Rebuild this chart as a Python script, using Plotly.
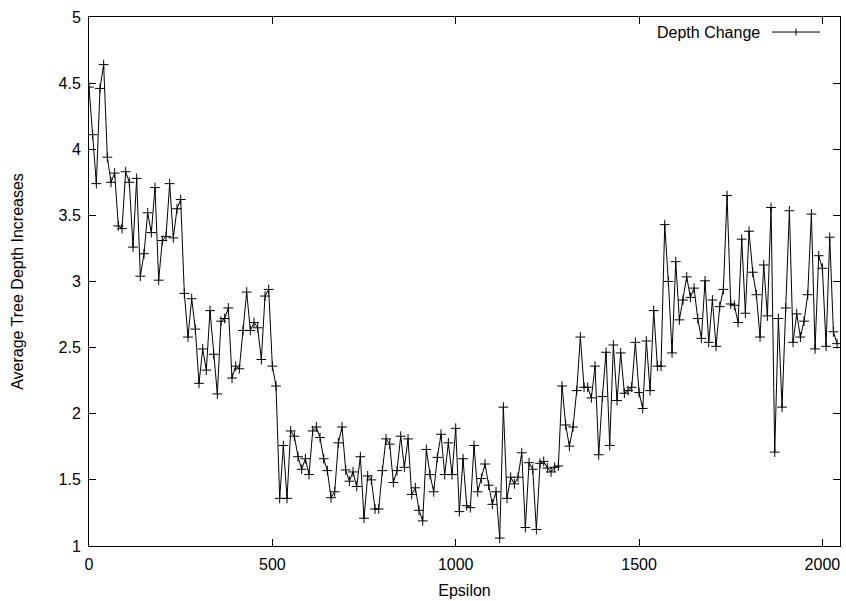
import plotly.graph_objects as go

# ---- data ----
epsilon = list(range(0, 2050, 10))
depth_change = [
    4.47, 4.11, 3.74, 4.46, 4.64, 3.94, 3.75, 3.82, 3.42, 3.40,
    3.83, 3.75, 3.26, 3.78, 3.04, 3.21, 3.52, 3.37, 3.71, 3.01,
    3.31, 3.34, 3.74, 3.33, 3.55, 3.62, 2.91, 2.58, 2.87, 2.64,
    2.23, 2.49, 2.33, 2.78, 2.45, 2.15, 2.70, 2.72, 2.80, 2.27,
    2.36, 2.34, 2.63, 2.92, 2.63, 2.69, 2.65, 2.41, 2.89, 2.94,
    2.36, 2.21, 1.36, 1.76, 1.36, 1.87, 1.83, 1.675, 1.58, 1.66,
    1.54, 1.87, 1.90, 1.82, 1.66, 1.57, 1.365, 1.41, 1.78, 1.90,
    1.575, 1.49, 1.56, 1.45, 1.675, 1.21, 1.53, 1.50, 1.28, 1.28,
    1.57, 1.81, 1.77, 1.48, 1.57, 1.83, 1.595, 1.81, 1.39, 1.44,
    1.27, 1.19, 1.73, 1.54, 1.41, 1.67, 1.845, 1.54, 1.78, 1.54,
    1.89, 1.26, 1.66, 1.305, 1.29, 1.76, 1.41, 1.51, 1.62, 1.46,
    1.315, 1.41, 1.06, 2.05, 1.36, 1.52, 1.47, 1.52, 1.705, 1.14,
    1.63, 1.58, 1.125, 1.625, 1.64, 1.59, 1.56, 1.595, 1.605, 2.21,
    1.915, 1.755, 1.90, 2.175, 2.58, 2.20, 2.20, 2.12, 2.36, 1.69,
    2.13, 2.465, 1.76, 2.52, 2.10, 2.46, 2.155, 2.175, 2.20, 2.54,
    2.16, 2.04, 2.55, 2.175, 2.78, 2.36, 2.36, 3.43, 3.00, 2.46,
    3.15, 2.71, 2.86, 3.035, 2.88, 2.95, 2.72, 2.57, 3.005, 2.54,
    2.86, 2.51, 2.81, 2.94, 3.65, 2.83, 2.82, 2.69, 3.32, 2.76,
    3.38, 3.07, 2.90, 2.58, 3.125, 2.74, 3.56, 1.71, 2.72, 2.05,
    2.80, 3.535, 2.54, 2.755, 2.58, 2.70, 2.90, 3.51, 2.49, 3.195,
    3.10, 2.51, 3.335, 2.62, 2.53,
]
x_ticks = [0, 500, 1000, 1500, 2000]
y_ticks = [1, 1.5, 2, 2.5, 3, 3.5, 4, 4.5, 5]
y_tick_text = ["1", "1.5", "2", "2.5", "3", "3.5", "4", "4.5", "5"]
series_name = "Depth Change"

FONT = "Liberation Sans, Arial, Helvetica, sans-serif"
FS = 16

fig = go.Figure()
fig.add_trace(go.Scatter(
    x=epsilon, y=depth_change, mode="lines+markers", name=series_name,
    line=dict(color="black", width=1),
    marker=dict(symbol="cross-thin", size=7, color="black",
                line=dict(color="black", width=1)),
    showlegend=False,
))

axis_common = dict(
    showline=True, linecolor="black", linewidth=1, mirror="allticks",
    ticks="inside", ticklen=7, tickcolor="black", tickwidth=1,
    showgrid=False, zeroline=False,
    tickfont=dict(family=FONT, size=FS, color="black"),
    ticklabelstandoff=4,
)

fig.update_layout(
    width=846, height=601,
    margin=dict(l=89, r=6, t=17, b=55, autoexpand=False),
    paper_bgcolor="white", plot_bgcolor="white",
    font=dict(family=FONT, size=FS, color="black"),
    xaxis=dict(range=[0, 2048], tickvals=x_ticks, automargin=False,
               title=dict(text="Epsilon", font=dict(family=FONT, size=FS), standoff=12),
               **axis_common),
    yaxis=dict(range=[1, 5], tickvals=y_ticks, ticktext=y_tick_text, automargin=False,
               title=dict(text="Average Tree Depth Increases", font=dict(family=FONT, size=FS), standoff=30),
               **axis_common),
)

# gnuplot-style key: text then line sample with a cross
lx0, lx1, ly = 0.9095, 0.9734, 0.9716
fig.add_annotation(x=0.896, y=ly, xref="paper", yref="paper", text=series_name,
                   showarrow=False, xanchor="right", yanchor="middle",
                   font=dict(family=FONT, size=FS, color="black"))
fig.add_shape(type="line", xref="paper", yref="paper", x0=lx0, x1=lx1, y0=ly, y1=ly,
              line=dict(color="black", width=1))
cx = (lx0 + lx1) / 2
dy = 3.5 / 529
fig.add_shape(type="line", xref="paper", yref="paper", x0=cx, x1=cx, y0=ly - dy, y1=ly + dy,
              line=dict(color="black", width=1))

fig.write_html("out.html")
